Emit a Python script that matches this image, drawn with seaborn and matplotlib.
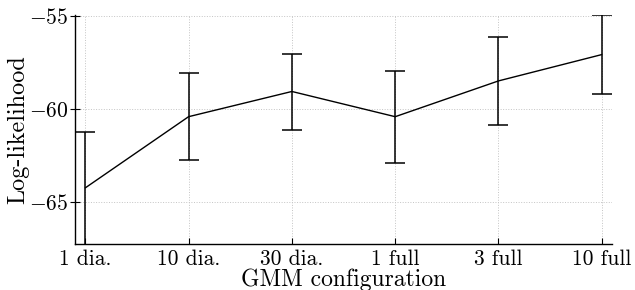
import matplotlib
matplotlib.use("Agg")
import matplotlib.pyplot as plt
import seaborn as sns
import numpy as np
import pandas as pd

configs = ["1 dia.", "10 dia.", "30 dia.", "1 full", "3 full", "10 full"]
means = [-64.25, -60.41, -59.05, -60.41, -58.48, -57.06]
err_low = [3.2, 2.34, 2.06, 2.5, 2.38, 2.12]
err_high = [3.0, 2.34, 2.02, 2.46, 2.35, 2.12]

sns.set_theme(style="white")
plt.rcParams["font.family"] = ["cmr10", "DejaVu Serif"]
plt.rcParams["mathtext.fontset"] = "cm"
plt.rcParams["axes.formatter.use_mathtext"] = True
plt.rcParams["axes.unicode_minus"] = True

df = pd.DataFrame({"pos": np.arange(len(configs)), "config": configs, "mean": means,
                   "lo": err_low, "hi": err_high})

fig = plt.figure(figsize=(6.35, 2.9), dpi=100)
ax = fig.add_axes([0.118, 0.159, 0.846, 0.789])

sns.lineplot(data=df, x="pos", y="mean", ax=ax, color="black", linewidth=1.0, zorder=3)
ax.errorbar(df["pos"], df["mean"], yerr=[df["lo"], df["hi"]], fmt="none", ecolor="black",
            elinewidth=1.1, capsize=7, capthick=1.1, zorder=3)

ax.set_xlim(-0.1, 5.1)
ax.set_ylim(-67.27, -54.93)
ax.set_xticks(df["pos"])
ax.set_xticklabels(configs)
ax.set_yticks([-65, -60, -55])
ax.set_yticklabels(["$-65$", "$-60$", "$-55$"])

ax.grid(True, linestyle=":", color="#c4c4c4", linewidth=0.7)
ax.set_axisbelow(True)
for s in ["top", "right"]:
    ax.spines[s].set_visible(False)
for s in ["left", "bottom"]:
    ax.spines[s].set_color("black")
    ax.spines[s].set_linewidth(1.0)

ax.tick_params(axis="x", direction="in", length=4, width=0.8, colors="black",
               labelsize=15.5, pad=4, bottom=True)
ax.tick_params(axis="y", direction="inout", length=7, width=0.8, colors="black",
               labelsize=15.5, pad=1, left=True)
ax.set_xlabel("GMM configuration", fontsize=17, color="black")
ax.xaxis.set_label_coords(0.5, -0.108)
ax.set_ylabel("Log-likelihood", fontsize=17.5, labelpad=0, color="black")

fig.savefig("out.png", dpi=100)
